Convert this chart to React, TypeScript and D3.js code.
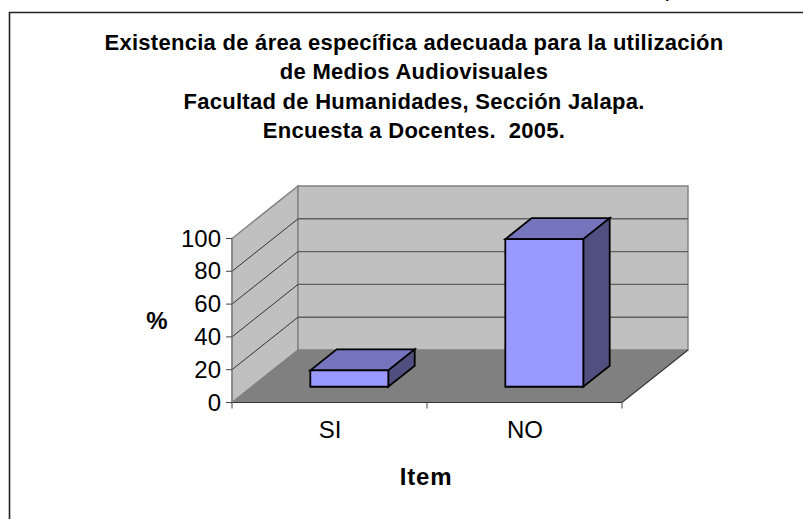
import React from "react";
import * as d3 from "d3";

const categories = ["SI", "NO"];
const values = [10, 90];
const yTicks = [0, 20, 40, 60, 80, 100];
const titleLines = [
  "Existencia de área específica adecuada para la utilización",
  "de Medios Audiovisuales",
  "Facultad de Humanidades, Sección Jalapa.",
  "Encuesta a Docentes.  2005.",
];
const FONT = "'Liberation Sans', Arial, sans-serif";

const x = d3.scaleBand<string>().domain(categories).range([232, 622]);
const y = d3.scaleLinear().domain([0, 100]).range([402.5, 238.5]);
const depthX = 66;
const depthY = -52.5;
const project = (px: number, py: number, t: number): [number, number] => [px + depthX * t, py + depthY * t];
const line = d3.line<[number, number]>().x(d => d[0]).y(d => d[1]);
const poly = (pts: [number, number][]) => line(pts) + "Z";

const barGap = 0.3;
const barDepth = [0.3, 0.7];

export default function App() {
  const x0 = x.range()[0], x1 = x.range()[1];
  const yb = y(0), yt = y(100);
  return (
    <svg width={803} height={519} style={{ position: "absolute", left: 0, top: 0, background: "#fff" }} fontFamily={FONT}>
      <text x={670} y={-2} fontSize={16} fontWeight="bold" textAnchor="middle">p</text>
      <path d="M9.5 519V12.5H803" fill="none" stroke="#222" strokeWidth={1.6} />
      {titleLines.map((t, i) => (
        <text key={i} x={414} y={50 + i * 29.3} fontSize={22} letterSpacing={0.28} fontWeight="bold" textAnchor="middle" xmlSpace="preserve">{t}</text>
      ))}
      {/* walls */}
      <path d={poly([project(x0, yb, 0), project(x0, yt, 0), project(x0, yt, 1), project(x0, yb, 1)])} fill="#c0c0c0" stroke="#808080" strokeWidth={1.4} />
      <path d={poly([project(x0, yb, 1), project(x0, yt, 1), project(x1, yt, 1), project(x1, yb, 1)])} fill="#c0c0c0" stroke="#808080" strokeWidth={1.4} />
      <path d={poly([project(x0, yb, 0), project(x1, yb, 0), project(x1, yb, 1), project(x0, yb, 1)])} fill="#808080" stroke="none" />
      {yTicks.filter(t => t > 0 && t < 100).map(t => (
        <g key={t}>
          <path d={line([project(x0, y(t), 0), project(x0, y(t), 1)])!} fill="none" stroke="#222" strokeWidth={0.9} />
          <path d={line([project(x0, y(t), 1), project(x1, y(t), 1)])!} fill="none" stroke="#606060" strokeWidth={1.4} />
        </g>
      ))}
      <path d={line([project(x0, yb, 0), project(x1, yb, 0), project(x1, yb, 1)])!} fill="none" stroke="#333" strokeWidth={1.2} />
      <path d={line([project(x0, yb, 0), project(x0, yb, 1)])!} fill="none" stroke="#808080" strokeWidth={1} />
      {/* axes */}
      <path d={line([[x0, yb], [x0, yt]])!} fill="none" stroke="#808080" strokeWidth={1.2} />
      {yTicks.map(t => (
        <g key={t}>
          <path d={line([[x0 - 6, y(t)], [x0, y(t)]])!} stroke="#444" strokeWidth={1} />
          <text x={221} y={y(t) + 8} fontSize={24} textAnchor="end">{t}</text>
        </g>
      ))}
      {[...categories.map(c => x(c)!), x1].map((v, i) => (
        <path key={i} d={line([[v, yb], [v, yb + 6]])!} stroke="#444" strokeWidth={1} />
      ))}
      {categories.map(c => (
        <text key={c} x={x(c)! + x.bandwidth() / 2 + 0.5} y={438} fontSize={24} textAnchor="middle">{c}</text>
      ))}
      {/* bars */}
      {categories.map((c, i) => {
        const bw = x.bandwidth();
        const l = x(c)! + bw * barGap;
        const r = x(c)! + bw * (1 - barGap);
        const base = project(0, yb, barDepth[0])[1];
        const h = y(0) - y(values[i]);
        const top = base - h;
        const dl = l + depthX * barDepth[0], dr = r + depthX * barDepth[0];
        const d = barDepth[1] - barDepth[0];
        return (
          <g key={c} stroke="#000" strokeWidth={1.8} strokeLinejoin="miter">
            <path d={poly([[dl, top], project(dl, top, d), project(dr, top, d), [dr, top]])} fill="#7575bd" />
            <path d={poly([[dr, top], project(dr, top, d), project(dr, base, d), [dr, base]])} fill="#4f4f80" />
            <path d={poly([[dl, base], [dl, top], [dr, top], [dr, base]])} fill="#9999ff" />
          </g>
        );
      })}
      <text x={157} y={329} fontSize={24} fontWeight="bold" textAnchor="middle">%</text>
      <text x={426} y={485} fontSize={24} letterSpacing={0.8} fontWeight="bold" textAnchor="middle">Item</text>
    </svg>
  );
}
